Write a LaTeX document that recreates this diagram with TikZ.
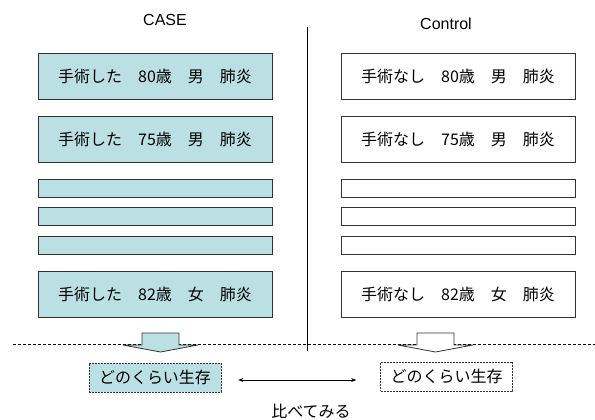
\documentclass[tikz,border=0pt]{standalone}
\usepackage{fontspec}
\setmainfont{Liberation Sans}
\newfontfamily\jpfont{Noto Sans CJK JP}
\usetikzlibrary{arrows.meta}
\definecolor{casefill}{RGB}{187,224,227}

\begin{document}
\begin{tikzpicture}[x=1pt,y=-1pt,
    rowbox/.style={draw=black!80,line width=0.8pt,minimum width=234pt,minimum height=46pt,inner sep=0pt,font=\jpfont\fontsize{16}{18}\selectfont},
    thinbar/.style={draw=black!80,line width=0.8pt,minimum width=234pt,minimum height=18pt,inner sep=0pt},
    survbox/.style={draw=black!80,line width=0.6pt,dash pattern=on 2pt off 1pt,minimum width=132pt,minimum height=29pt,inner sep=0pt,font=\jpfont\fontsize{16}{18}\selectfont},
    blockarrow/.style={draw=black!80,line width=0.8pt,line join=miter}]

        \useasboundingbox (0,0) rectangle (595,420);

        % headings
        \node[font=\fontsize{16}{19}\selectfont] (casehead) at (165,20) {CASE};
        \node[font=\fontsize{16}{19}\selectfont] (ctrlhead) at (446,24) {Control};

        % divider
        \coordinate (divtop) at (307,27);
        \coordinate (divbot) at (307,351);
        \draw[line width=0.8pt] (divtop) -- (divbot);

        % case column
        \node[rowbox,fill=casefill] (case1) at (155,76) {手術した　80歳　男　肺炎};
        \node[rowbox,fill=casefill] (case2) at (155,139) {手術した　75歳　男　肺炎};
        \foreach \y/\n in {188/a,216.5/b,245/c}
            \node[thinbar,fill=casefill] (casebar\n) at (155,\y) {};
        \node[rowbox,fill=casefill] (case3) at (155,294) {手術した　82歳　女　肺炎};

        % control column
        \node[rowbox,fill=white] (ctrl1) at (458,76) {手術なし　80歳　男　肺炎};
        \node[rowbox,fill=white] (ctrl2) at (458,139) {手術なし　75歳　男　肺炎};
        \foreach \y/\n in {188/a,216.5/b,245/c}
            \node[thinbar,fill=white] (ctrlbar\n) at (458,\y) {};
        \node[rowbox,fill=white] (ctrl3) at (458,294) {手術なし　82歳　女　肺炎};

        % cut line
        \coordinate (cutl) at (13,344);
        \coordinate (cutr) at (595,344);
        \draw[line width=0.7pt,dash pattern=on 3pt off 2pt] (cutl) -- (cutr);

        % block arrows
        \foreach \cx/\col in {160.5/casefill,435.5/white}
            \draw[blockarrow,fill=\col] (\cx-18.5,333) -- (\cx+18.5,333) -- (\cx+18.5,345)
                -- (\cx+37.5,345) -- (\cx,352) -- (\cx-37.5,345) -- (\cx-18.5,345) -- cycle;

        % survival
        \node[survbox,fill=casefill] (survcase) at (155,377.5) {どのくらい生存};
        \node[survbox,fill=white] (survctrl) at (446.5,376.5) {どのくらい生存};
        \draw[line width=0.7pt,{Stealth[length=5pt,width=4pt]}-{Stealth[length=5pt,width=4pt]},shorten <=17pt,shorten >=24pt]
            ([yshift=-2.5pt]survcase.east) -- ([yshift=-3.5pt]survctrl.west);

        % compare
        \node[font=\jpfont\fontsize{16}{18}\selectfont] (compare) at (311,411) {比べてみる};
\end{tikzpicture}
\end{document}
